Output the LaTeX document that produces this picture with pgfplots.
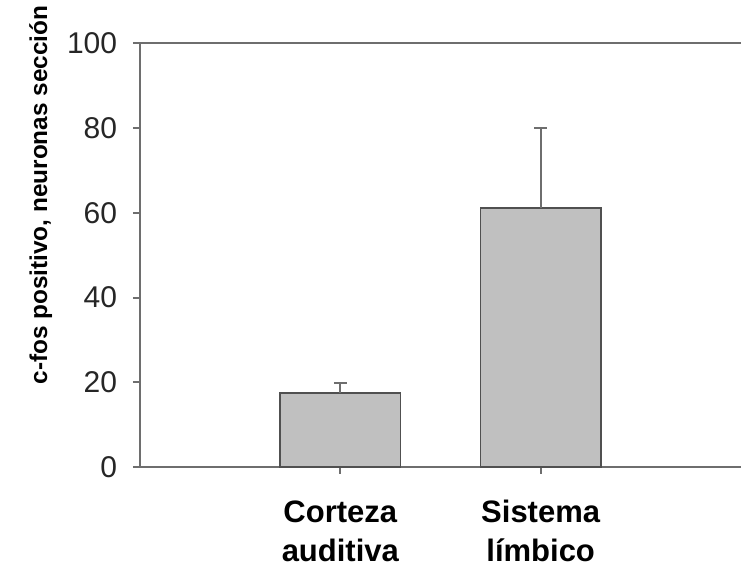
\documentclass[border=0pt]{standalone}
\usepackage{pgfplots}
\pgfplotsset{compat=1.18}
\usepackage{fontspec}
\setmainfont{Liberation Sans}
\definecolor{axgray}{HTML}{6E6E6E}
\definecolor{barfill}{HTML}{C0C0C0}
\definecolor{baredge}{HTML}{505050}
\begin{document}
\begin{tikzpicture}
\useasboundingbox (-84pt,-59.4pt) rectangle (360.6pt,280.2pt);
\begin{axis}[
  at={(0,0)}, anchor=south west,
  scale only axis,
  width=360.6pt, height=254.1pt,
  xmin=-1, xmax=2,
  ymin=0, ymax=100,
  ytick={0,20,40,60,80,100},
  xtick={0,1},
  xticklabels={Corteza\\auditiva, Sistema\\límbico},
  axis lines=left,
  axis line style={-, axgray, line width=1.2pt},
  tick style={axgray, line width=1.2pt},
  tick align=outside,
  major tick length=4.2pt,
  /pgf/number format/assume math mode=true,
  yticklabel style={font=\fontsize{18}{20}\selectfont, text=black!85, xshift=-6pt},
  xticklabel style={font=\bfseries\fontsize{18.6}{23.5}\selectfont, align=center, anchor=base, yshift=-52.5pt, inner sep=0pt},
  ylabel={c-fos positivo, neuronas sección},
  ylabel style={font=\bfseries\fontsize{14.6}{16}\selectfont, at={(axis description cs:-0.165,0.642)}, anchor=center},
  ybar, bar width=0.6,
  clip=false,
]
\addplot[fill=barfill, draw=baredge, line width=1pt,
  error bars/.cd, y dir=plus, y explicit, error mark=|,
  error bar style={axgray, line width=1.2pt},
  error mark options={axgray, line width=1.2pt, mark size=3.9pt}]
  coordinates {(0,17.4) +- (0,2.5) (1,61.1) +- (0,18.9)};
\draw[axgray, line width=1.2pt] (rel axis cs:0,1) -- (rel axis cs:1,1);
\end{axis}
\end{tikzpicture}
\end{document}
